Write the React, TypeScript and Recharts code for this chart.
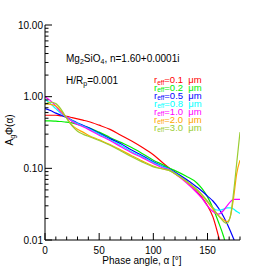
import { LineChart, Line, XAxis, YAxis } from "recharts";

// phase angle grid (deg)
const angles = [0, 5, 10, 15, 20, 25, 30, 35, 40, 50, 60, 70, 80, 90, 100, 110, 115, 120, 130, 140, 145, 150, 155, 160, 165, 168, 171, 174, 177, 180];

// A_g * Phi(alpha) for each effective radius
const r01 = [0.55, 0.55, 0.55, 0.54, 0.53, 0.51, 0.49, 0.47, 0.45, 0.4, 0.35, 0.29, 0.24, 0.195, 0.155, 0.115, 0.1, 0.088, 0.068, 0.048, 0.039, 0.03, 0.021, 0.0115, 0.006, null, null, null, null, null];
const r02 = [0.46, 0.46, 0.455, 0.45, 0.44, 0.43, 0.41, 0.39, 0.37, 0.32, 0.27, 0.23, 0.195, 0.16, 0.13, 0.11, 0.1, 0.093, 0.078, 0.063, 0.052, 0.04, 0.028, 0.018, 0.011, 0.0075, null, null, null, null];
const r05 = [0.68, 0.64, 0.59, 0.55, 0.51, 0.47, 0.43, 0.4, 0.37, 0.31, 0.26, 0.22, 0.18, 0.15, 0.123, 0.105, 0.097, 0.088, 0.071, 0.055, 0.048, 0.041, 0.035, 0.028, 0.021, 0.017, 0.0135, 0.0105, 0.008, null];
const r08 = [0.92, 0.8, 0.68, 0.58, 0.52, 0.46, 0.42, 0.39, 0.36, 0.3, 0.25, 0.21, 0.17, 0.145, 0.12, 0.103, 0.096, 0.086, 0.067, 0.05, 0.042, 0.034, 0.028, 0.026, 0.027, 0.028, 0.028, 0.027, 0.025, 0.0235];
const r10 = [1.0, 0.88, 0.74, 0.6, 0.52, 0.45, 0.41, 0.38, 0.35, 0.29, 0.245, 0.2, 0.165, 0.14, 0.117, 0.1, 0.095, 0.084, 0.064, 0.046, 0.038, 0.03, 0.025, 0.023, 0.026, 0.03, 0.034, 0.037, 0.037, 0.037];
const r20 = [0.8, 0.78, 0.74, 0.63, 0.5, 0.4, 0.35, 0.32, 0.29, 0.25, 0.215, 0.18, 0.15, 0.126, 0.108, 0.097, 0.093, 0.084, 0.066, 0.05, 0.042, 0.034, 0.027, 0.022, 0.019, 0.018, 0.021, 0.038, 0.085, 0.13];
const r30 = [0.78, 0.84, 0.8, 0.66, 0.5, 0.39, 0.33, 0.3, 0.28, 0.245, 0.21, 0.175, 0.145, 0.122, 0.105, 0.097, 0.093, 0.084, 0.067, 0.051, 0.043, 0.035, 0.028, 0.022, 0.018, 0.017, 0.021, 0.045, 0.12, 0.32];

const radii = ["0.1", "0.2", "0.5", "0.8", "1.0", "2.0", "3.0"];
const colors = ["#ff0000", "#00ee00", "#0000ff", "#00ffff", "#ff00ff", "#ffa500", "#9acd32"];
const values = [r01, r02, r05, r08, r10, r20, r30];

const xTicks = [0, 10, 20, 30, 40, 50, 60, 70, 80, 90, 100, 110, 120, 130, 140, 150, 160, 170, 180];
const xLabels = [0, 50, 100, 150];
const yTicks = [0.01, 0.02, 0.03, 0.04, 0.05, 0.06, 0.07, 0.08, 0.09, 0.1, 0.2, 0.3, 0.4, 0.5, 0.6, 0.7, 0.8, 0.9, 1, 2, 3, 4, 5, 6, 7, 8, 9, 10];
const yMajor = [0.01, 0.1, 1, 10];

const rows = angles.map((a, i) => {
	const row: Record<string, number | null> = { a };
	values.forEach((v, k) => {
		row["s" + k] = v[i];
	});
	return row;
});

const font = "'Liberation Sans', Arial, sans-serif";

// plot box geometry (chart margins + axis sizes)
const W = 267;
const H = 267;
const M = { top: 25, right: 27, left: 5, bottom: 2 };
const Y_AXIS_W = 40;
const X_AXIS_H = 25;
const plotLeft = M.left + Y_AXIS_W;
const plotRight = W - M.right;
const plotBottom = H - M.bottom - X_AXIS_H;
const xPos = (v: number) => plotLeft + (v / 180) * (plotRight - plotLeft);

const isMajorX = (v: any) => {
	const n = Number(v);
	return Math.abs(n - 50 * Math.round(n / 50)) < 1e-6;
};
const isMajorY = (v: any) => yMajor.some((m) => Math.abs(m - Number(v)) < 1e-9);

const BottomTick = ({ x, y, payload }: any) => (
	<line x1={x} y1={y} x2={x} y2={y - (isMajorX(payload.value) ? 7 : 3.5)} stroke="#000" />
);

const TopTick = ({ x, y, payload }: any) => (
	<line x1={x} y1={y} x2={x} y2={y + (isMajorX(payload.value) ? 7 : 3.5)} stroke="#000" />
);

const LeftTick = ({ x, y, payload }: any) => {
	const major = isMajorY(payload.value);
	return (
		<g>
			<line x1={x} y1={y} x2={x + (major ? 7 : 3.5)} y2={y} stroke="#000" />
			{major ? (
				<text x={x - 2} y={y + 3.5} textAnchor="end" fontSize={10} fontFamily={font} fill="#000">
					{Number(payload.value).toFixed(2)}
				</text>
			) : null}
		</g>
	);
};

const RightTick = ({ x, y, payload }: any) => (
	<line x1={x} y1={y} x2={x - (isMajorY(payload.value) ? 7 : 3.5)} y2={y} stroke="#000" />
);

export default function App() {
	return (
		<div style={{ position: "absolute", left: 0, top: 0, width: W, height: H, background: "#fff" }}>
			<LineChart width={W} height={H} data={rows} margin={M}>
				<XAxis
					xAxisId="main"
					dataKey="a"
					type="number"
					domain={[0, 180]}
					ticks={xTicks}
					interval={0}
					height={X_AXIS_H}
					tickSize={0}
					tickMargin={0}
					tickLine={false}
					tick={<BottomTick />}
					axisLine={{ stroke: "#000" }}
					allowDataOverflow
				/>
				<XAxis
					xAxisId="top"
					dataKey="a"
					orientation="top"
					type="number"
					domain={[0, 180]}
					ticks={[...xTicks]}
					interval={0}
					height={0}
					tickSize={0}
					tickMargin={0}
					tickLine={false}
					tick={<TopTick />}
					axisLine={{ stroke: "#000" }}
					allowDataOverflow
				/>
				<YAxis
					yAxisId="main"
					scale="log"
					domain={[0.01, 10]}
					ticks={yTicks}
					interval={0}
					width={Y_AXIS_W}
					tickSize={0}
					tickMargin={0}
					tickLine={false}
					tick={<LeftTick />}
					axisLine={{ stroke: "#000" }}
					allowDataOverflow
				/>
				<YAxis
					yAxisId="right"
					orientation="right"
					scale="log"
					domain={[0.01, 10]}
					ticks={[...yTicks]}
					interval={0}
					width={0}
					tickSize={0}
					tickMargin={0}
					tickLine={false}
					tick={<RightTick />}
					axisLine={{ stroke: "#000" }}
					allowDataOverflow
				/>
				{radii.map((r, k) => (
					<Line
						key={r}
						xAxisId="main"
						yAxisId="main"
						dataKey={"s" + k}
						stroke={colors[k]}
						strokeWidth={1.2}
						dot={false}
						type="monotone"
						isAnimationActive={false}
					/>
				))}
			</LineChart>
			<svg width={W} height={H} style={{ position: "absolute", left: 0, top: 0, pointerEvents: "none" }} fontFamily={font}>
				{xLabels.map((v) => (
					<text key={v} x={xPos(v)} y={plotBottom + 14} textAnchor="middle" fontSize={10} fill="#000">
						{v}
					</text>
				))}
				<text x={66} y={61.5} fontSize={10} fill="#000">
					Mg<tspan fontSize={7} dy={2}>2</tspan>
					<tspan dy={-2}>SiO</tspan>
					<tspan fontSize={7} dy={2}>4</tspan>
					<tspan dy={-2}>, n=1.60+0.0001i</tspan>
				</text>
				<text x={66} y={83.5} fontSize={10} fill="#000">
					H/R<tspan fontSize={7} dy={2}>p</tspan>
					<tspan dy={-2}>=0.001</tspan>
				</text>
				{radii.map((r, k) => (
					<text key={r} x={154} y={83 + k * 7.95} fontSize={9.5} fill={colors[k]}>
						r<tspan fontSize={6.5} dy={1.5}>eff</tspan>
						<tspan dy={-1.5}>={r}{"\u00a0\u00a0"}μm</tspan>
					</text>
				))}
				<text x={142} y={264} fontSize={10} textAnchor="middle" fill="#000">
					Phase angle, α [°]
				</text>
				<text transform="translate(12.5,130) rotate(-90)" fontSize={10} textAnchor="middle" fill="#000">
					A<tspan fontSize={7} dy={2}>g</tspan>
					<tspan dy={-2}>Φ(α)</tspan>
				</text>
			</svg>
		</div>
	);
}
